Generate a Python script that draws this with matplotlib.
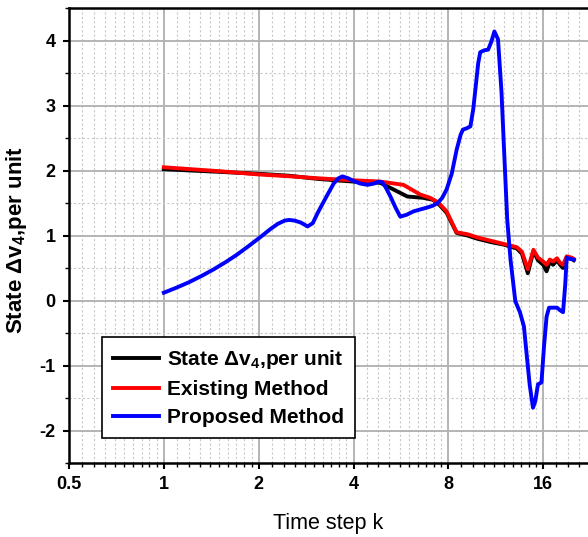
import numpy as np
import matplotlib
matplotlib.use("Agg")
import matplotlib.pyplot as plt
from matplotlib.ticker import LogLocator, FixedLocator, FixedFormatter, MultipleLocator

plt.rcParams['font.family'] = ['Liberation Sans', 'DejaVu Sans']
plt.rcParams['axes.unicode_minus'] = False
plt.rcParams['mathtext.fontset'] = 'custom'
plt.rcParams['mathtext.rm'] = 'Liberation Sans'
plt.rcParams['mathtext.bf'] = 'Liberation Sans:bold'

# time steps (log2 x axis) and the three traces
k_state = [1.0, 1.5, 2.0, 2.5, 3.1, 4.0, 4.87, 5.35, 5.93, 6.66, 7.15, 7.5, 7.9, 8.5,
           9.2, 9.9, 10.9, 12.0, 13.2, 13.7, 14.3, 14.9, 15.4, 16.0, 16.4, 16.8, 17.2,
           17.7, 18.1, 18.5, 19.0, 19.7, 20.0]
state = [2.02, 1.98, 1.95, 1.92, 1.87, 1.83, 1.81, 1.71, 1.60, 1.58, 1.55, 1.47, 1.35, 1.04,
         1.00, 0.95, 0.90, 0.86, 0.80, 0.72, 0.42, 0.76, 0.62, 0.55, 0.45, 0.60, 0.55,
         0.62, 0.55, 0.50, 0.66, 0.64, 0.62]

k_exist = [1.0, 1.5, 2.0, 2.53, 3.1, 4.0, 4.87, 5.76, 6.52, 7.0, 7.43, 7.9, 8.5,
           9.2, 9.9, 10.9, 12.0, 13.2, 13.7, 14.3, 14.9, 15.4, 16.0, 16.4, 16.8, 17.2,
           17.7, 18.1, 18.5, 19.0, 19.7, 20.0]
exist = [2.05, 1.99, 1.94, 1.91, 1.88, 1.85, 1.83, 1.78, 1.63, 1.58, 1.51, 1.37, 1.05,
         1.02, 0.97, 0.92, 0.87, 0.82, 0.75, 0.48, 0.78, 0.66, 0.60, 0.55, 0.63, 0.60,
         0.65, 0.58, 0.55, 0.68, 0.66, 0.64]

k_prop = [1.0, 1.1, 1.2, 1.32, 1.44, 1.57, 1.7, 1.85, 2.03, 2.18, 2.3, 2.42, 2.5, 2.6,
          2.72, 2.86, 2.97, 3.08, 3.2, 3.3, 3.46, 3.58, 3.69, 3.85, 4.0,
          4.2, 4.43, 4.65, 4.8, 4.93, 5.05, 5.24, 5.45, 5.63, 5.9, 6.19, 6.5, 6.85, 7.15,
          7.4, 7.65, 7.9, 8.2, 8.5, 8.75, 8.9, 9.15, 9.4, 9.6, 9.8, 9.95,
          10.1, 10.4, 10.7, 10.95, 11.2, 11.5, 11.8, 12.0, 12.3, 12.6, 13.05, 13.5, 13.9,
          14.2, 14.5, 14.85, 15.1, 15.4, 15.8, 16.1, 16.4,
          16.7, 17.2, 17.7, 18.1, 18.5, 18.8, 19.0, 19.5, 20.0]
prop = [0.12, 0.20, 0.28, 0.38, 0.48, 0.59, 0.70, 0.83, 0.98, 1.10, 1.18, 1.23, 1.24, 1.23,
        1.20, 1.14, 1.19, 1.35, 1.50, 1.62, 1.80, 1.88, 1.91, 1.88, 1.84,
        1.80, 1.78, 1.80, 1.83, 1.82, 1.75, 1.60, 1.42, 1.29, 1.32, 1.37, 1.40, 1.43, 1.46,
        1.50, 1.58, 1.71, 1.95, 2.32, 2.55, 2.63, 2.65, 2.68, 2.95, 3.35, 3.65,
        3.82, 3.85, 3.86, 3.98, 4.14, 4.02, 3.20, 2.40, 1.25, 0.63, -0.01, -0.18, -0.40,
        -0.86, -1.30, -1.65, -1.55, -1.29, -1.26, -0.70, -0.25,
        -0.11, -0.11, -0.11, -0.15, -0.18, 0.25, 0.66, 0.64, 0.63]

x_ticks = [0.5, 1, 2, 4, 8, 16]
x_labels = ['0.5', '1', '2', '4', '8', '16']
y_ticks = [-2, -1, 0, 1, 2, 3, 4]

fig = plt.figure(figsize=(5.88, 5.37), dpi=100)
ax = fig.add_axes([0.1173, 0.1378, 0.8827, 0.8472])

lbl = 'State $\\mathbf{\\Delta v_4}$,per unit'
ax.plot(k_state, state, color='black', lw=2.8, label=lbl, zorder=3)
ax.plot(k_exist, exist, color='#ff0000', lw=2.8, label='Existing Method', zorder=4)
ax.plot(k_prop, prop, color='#0000ff', lw=2.8, label='Proposed Method', zorder=5)

ax.set_xscale('log', base=2)
ax.set_xlim(0.5, 22.2)
ax.set_ylim(-2.5, 4.5)
ax.xaxis.set_major_locator(FixedLocator(x_ticks))
ax.xaxis.set_major_formatter(FixedFormatter(x_labels))
ax.xaxis.set_minor_locator(LogLocator(base=2, subs=np.arange(1.1, 2.0, 0.1), numticks=20))
ax.xaxis.set_minor_formatter(FixedFormatter([]))
ax.yaxis.set_major_locator(FixedLocator(y_ticks))
ax.yaxis.set_minor_locator(MultipleLocator(0.5))

ax.grid(which='major', color='#b4b4b4', lw=1.4, ls='-')
ax.grid(which='minor', color='#c8c8c8', lw=0.8, ls=(0, (2, 2)))
ax.set_axisbelow(True)

for s in ['left', 'bottom', 'top']:
    ax.spines[s].set_linewidth(1.8)
ax.spines['right'].set_visible(False)

ax.tick_params(which='major', direction='out', length=4.5, width=1.5, labelsize=13, pad=5)
ax.tick_params(which='minor', direction='out', length=3, width=1.0)
for lab in ax.get_xticklabels() + ax.get_yticklabels():
    lab.set_fontweight('bold')

ax.set_xlabel('Time step k', fontsize=15.5, labelpad=14)
ax.set_ylabel(lbl, fontsize=16, fontweight='bold')
ax.yaxis.set_label_coords(-0.077, 0.49)

leg = ax.legend(loc='upper left', bbox_to_anchor=(0.0636, 0.277), prop={'size': 15, 'weight': 'bold'},
                fancybox=False, framealpha=1, edgecolor='black', handlelength=2.2,
                borderpad=0.55, labelspacing=0.42, handletextpad=0.35, borderaxespad=0)
leg.get_frame().set_linewidth(1.2)

fig.savefig('out.png', dpi=100)
